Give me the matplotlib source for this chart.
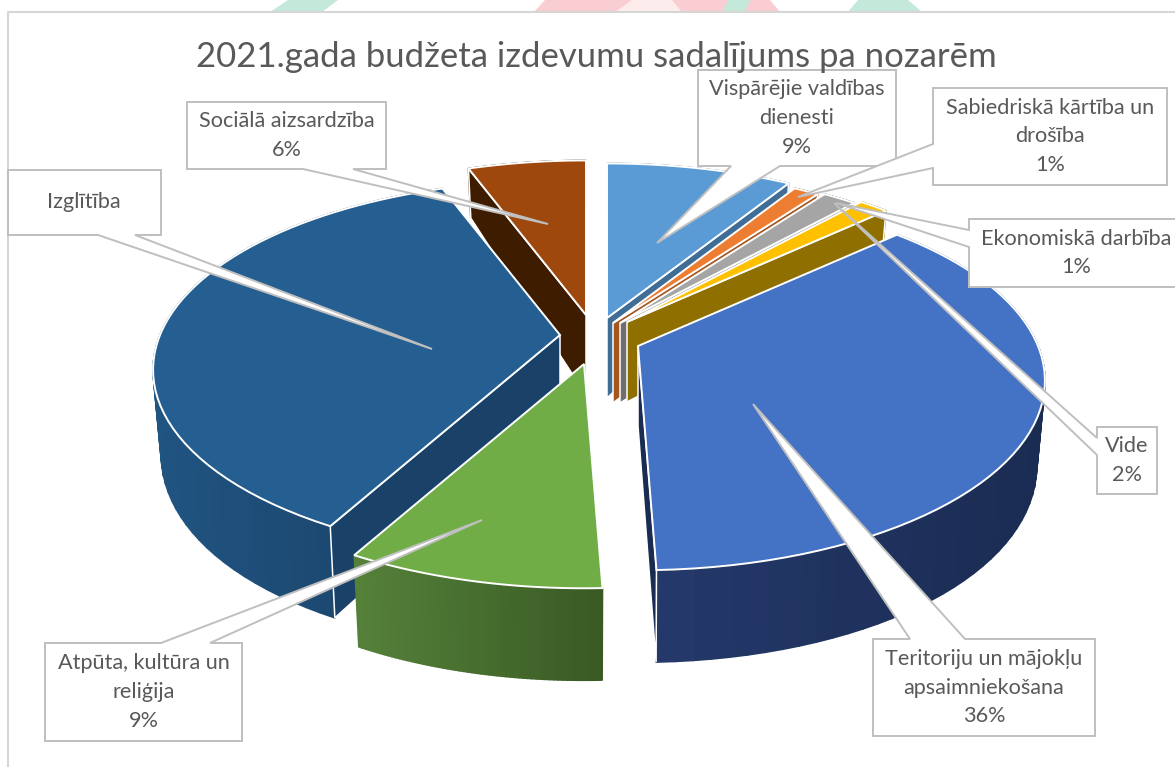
import matplotlib
matplotlib.use("Agg")
import matplotlib.pyplot as plt
import numpy as np
from matplotlib.collections import PolyCollection
from matplotlib.patches import Polygon

plt.rcParams['font.family'] = ['Lato', 'DejaVu Sans']

#Data, shares in percent, clockwise from the top
names = ["Vispārējie valdības\ndienesti", "Sabiedriskā kārtība un\ndrošība", "Vide",
         "Ekonomiskā darbība", "Teritoriju un mājokļu\napsaimniekošana",
         "Atpūta, kultūra un\nreliģija", "Izglītība", "Sociālā aizsardzība"]
shares = [8.8, 1.2, 1.6, 1.4, 36.4, 8.6, 36.4, 5.6]
show_percent = [True, True, True, True, True, True, False, True]

#Colours: top, cut face, wall on the left side, wall on the right side
top_colors = ["#5B9BD5", "#ED7D31", "#A5A5A5", "#FFC000", "#4472C4", "#70AD47", "#255E91", "#9E480E"]
face_colors = ["#3F6D96", "#A5561F", "#6E6E6E", "#8E6F00", "#1A2C52", "#527F34", "#1A4268", "#3E1C00"]
wall_left = ["#3F6D96", "#A5561F", "#6E6E6E", "#8E6F00", "#25396B", "#55813A", "#205481", "#3E1C00"]
wall_right = ["#3F6D96", "#A5561F", "#6E6E6E", "#8E6F00", "#1A2C52", "#395A24", "#1A4268", "#3E1C00"]

#Layout in pixels: where the inner corner of each exploded slice lands
apex = [(607, 318), (613, 323), (620, 323), (627, 322), (638, 346), (584, 364), (560, 335), (586, 315)]
draw_order = [7, 0, 1, 2, 3, 4, 6, 5]
#Which cut face can be seen: 0 first edge, -1 last edge, None neither
seen_face = [-1, -1, -1, -1, -1, None, 0, 0]

#Callouts: box (x0, y0, x1, y1), side of the pointer, pointer base a and b, pointer tip
callouts = [
    ((698, 70, 896, 166), "bottom", 731, 780, (657, 243)),
    ((933, 88, 1167, 185), "left", 144, 168, (798, 197)),
    ((1097, 427, 1157, 494), "left", 438, 455, (834, 203)),
    ((969, 219, 1190, 287), "left", 230, 247, (836, 203)),
    ((873, 639, 1095, 736), "top", 910, 965, (753, 404)),
    ((45, 643, 242, 741), "top", 161, 210, (482, 520)),
    ((8, 170, 161, 235), "bottom", 98, 135, (432, 349)),
    ((187, 102, 386, 169), "bottom", 303, 353, (548, 224)),
]
text_x = [None, None, None, 1076, None, None, 84, None]

#Faint picture behind the chart, only its lower edge shows above the frame
backdrop = [
    ([270, 288, 338, 322], "#C4E8DA"),
    ([534, 545, 770, 780], "#F9CDD1"),
    ([615, 632, 672, 682], "#FDECEC"),
    ([722, 728, 750, 745], "#C4E8DA"),
    ([922, 908, 858, 848], "#C4E8DA"),
]

RX, RY, K = 400.0, 183.0, 0.184


def drop(y):
    return 80 - 22.5 * y - 10.5 * y * y


def project(theta, center, r=1.0, lower=False):
    sx = r * np.sin(theta)
    sy = r * np.cos(theta)
    w = 1 + K * sy
    px = RX * sx / w
    py = -RY * sy / w
    if lower:
        px = px * 0.98
        py = py + drop(sy)
    return np.column_stack([center[0] + px, center[1] + py])


def mix(c1, c2, t):
    a = np.array(matplotlib.colors.to_rgb(c1))
    b = np.array(matplotlib.colors.to_rgb(c2))
    return a + (b - a) * t


fig = plt.figure(figsize=(11.75, 7.67), dpi=100)
ax = fig.add_axes([0, 0, 1, 1])
ax.set_xlim(0, 1175)
ax.set_ylim(767, 0)
ax.axis("off")

for xs, col in backdrop:
    ax.fill([xs[0], xs[1], xs[2], xs[3]], [12, 0, 0, 12], color=col, lw=0, zorder=0)

#Chart frame
ax.plot([8, 8, 1175], [767, 12, 12], color="#D6D6D6", lw=1.5, zorder=1)

edges = np.cumsum([0] + shares) / 100 * 2 * np.pi

z = 2
for i in draw_order:
    t = np.linspace(edges[i], edges[i + 1], 60)
    c = apex[i]
    up = project(t, c)
    low = project(t, c, lower=True)
    a_up = project(np.array([0.0]), c, r=0.0)
    a_low = project(np.array([0.0]), c, r=0.0, lower=True)

    #outer wall in small pieces, for the gradient
    quads = []
    cols = []
    for j in range(len(t) - 1):
        quads.append([up[j], up[j + 1], low[j + 1], low[j]])
        f = np.clip((up[j, 0] - up[:, 0].min()) / max(up[:, 0].max() - up[:, 0].min(), 1), 0, 1)
        cols.append(mix(wall_left[i], wall_right[i], f))
    ax.add_collection(PolyCollection(quads, facecolors=cols, edgecolors=cols, linewidths=1.2, zorder=z))

    #the cut face that faces the viewer
    k = seen_face[i]
    if k is not None:
        face = [a_up[0], up[k], low[k], a_low[0]]
        ax.add_patch(Polygon(face, closed=True, facecolor=face_colors[i], edgecolor="white", lw=1.1, zorder=z + 0.1))

    #top of the slice
    ax.add_patch(Polygon(np.vstack([a_up, up]), closed=True, facecolor=top_colors[i], edgecolor="white", lw=1.4, zorder=z + 0.2))
    z += 1

#Callouts over the pie
for i, (box, side, a, b, tip) in enumerate(callouts):
    x0, y0, x1, y1 = box
    if side == "bottom":
        pts = [(x0, y0), (x1, y0), (x1, y1), (b, y1), tip, (a, y1), (x0, y1)]
    elif side == "top":
        pts = [(x0, y0), (a, y0), tip, (b, y0), (x1, y0), (x1, y1), (x0, y1)]
    else:
        pts = [(x0, y0), (x1, y0), (x1, y1), (x0, y1), (x0, b), tip, (x0, a)]
    ax.add_patch(Polygon(pts, closed=True, facecolor="white", edgecolor="#BFBFBF", lw=1.4, joinstyle="miter", zorder=20))
    label = names[i]
    if show_percent[i]:
        label = label + "\n" + str(int(round(shares[i]))) + "%"
    tx = text_x[i] if text_x[i] is not None else (x0 + x1) / 2
    ax.text(tx, (y0 + y1) / 2, label, ha="center", va="center", fontsize=15.6, color="#595959",
            linespacing=1.55, zorder=21)

ax.text(596, 57, "2021.gada budžeta izdevumu sadalījums pa nozarēm", ha="center", va="center",
        fontsize=25, color="#595959", zorder=22)

fig.savefig("out.png", dpi=100)
